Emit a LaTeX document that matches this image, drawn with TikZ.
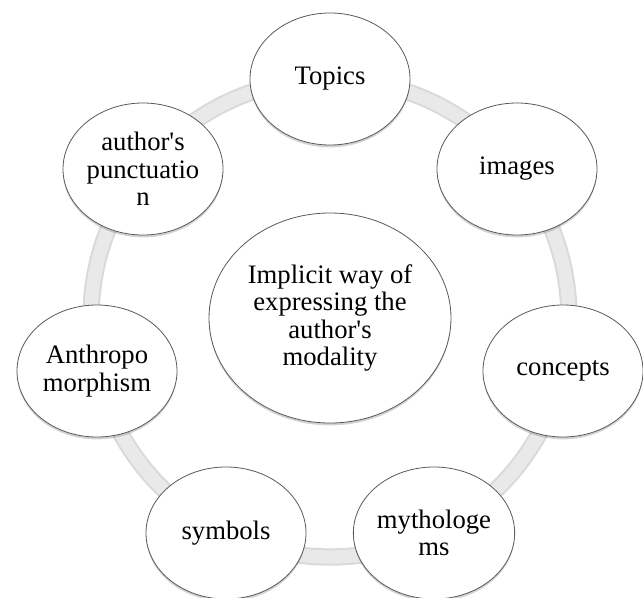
\documentclass[tikz,border=0pt]{standalone}
\usepackage{fontspec}
\setmainfont{Liberation Serif}
\usetikzlibrary{shapes.geometric,shadows}
\tikzset{
	cyclenode/.style={ellipse, draw=black!65, line width=0.6pt, fill=white,
		minimum width=120pt, minimum height=99pt, inner sep=0pt, align=center,
		font=\fontsize{20}{20.6}\selectfont,
		drop shadow={shadow xshift=0pt, shadow yshift=-1.8pt, opacity=.35}},
	hubnode/.style={cyclenode, minimum width=181.5pt, minimum height=157.5pt},
	ringband/.style={line width=13pt, draw=gray!30},
	ringcore/.style={line width=10pt, draw=gray!17}
}
\begin{document}
\begin{tikzpicture}[x=0.75pt, y=-0.75pt]
	\useasboundingbox (0, 0) rectangle (643, 597);
	\coordinate (c) at (330, 318);
	\draw[ringband] (c) circle[radius=179.25pt];
	\draw[ringcore] (c) circle[radius=179.25pt];
	\node[hubnode] (hub) at (c) {Implicit way of\\expressing the\\author\textquotesingle s\\modality};
	\node[cyclenode] (topics) at (330, 79) {Topics};
	\node[cyclenode] (images) at (517, 169) {images};
	\node[cyclenode] (concepts) at (563, 371) {concepts};
	\node[cyclenode] (myth) at (434, 533) {mythologe\\ms};
	\node[cyclenode] (symbols) at (226, 533) {symbols};
	\node[cyclenode] (anthro) at (97, 371) {Anthropo\\morphism};
	\node[cyclenode] (punct) at (143, 169) {author\textquotesingle s\\punctuatio\\n};
\end{tikzpicture}
\end{document}
